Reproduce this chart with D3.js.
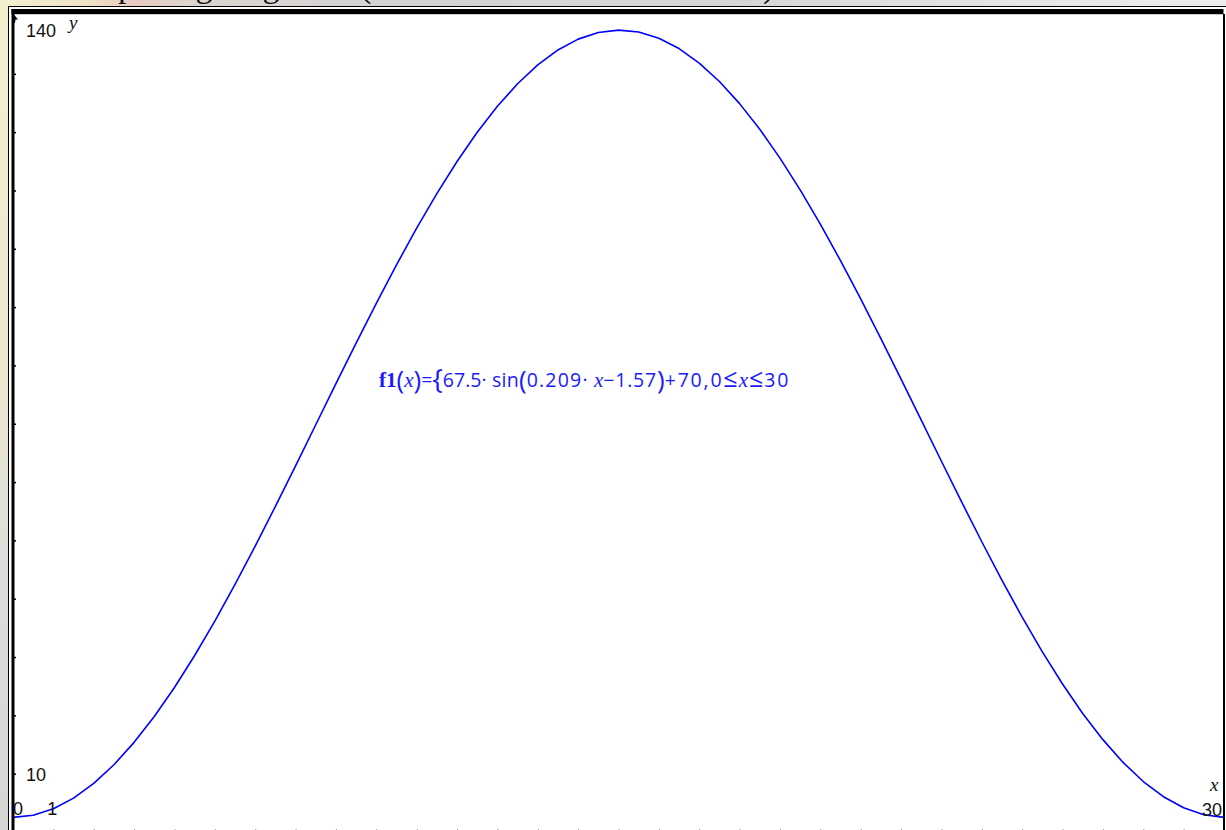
<!DOCTYPE html>
<html>
<head>
<meta charset="utf-8">
<script src="https://cdn.jsdelivr.net/npm/d3@7"></script>
<style>
  html, body { margin: 0; padding: 0; overflow: hidden; background: #d8d8d8; }
  svg { display: block; }
</style>
</head>
<body>
<svg id="chart" width="1226" height="830"></svg>
<script>
// Graph window (TI-Nspire style): x from 0 to 30, y from 0 to 140
const xWindow = [0, 30];
const yWindow = [0, 140];
const xScaleStep = 1;
const yScaleStep = 10;

// f1(x) = a · sin(b · x + c) + d, for 0 ≤ x ≤ 30
const coefA = [67.5];
const coefB = [0.209];
const coefC = [-1.57];
const coefD = [70];
const sampleStep = [0.5];

// Window labels shown on the axes
const xLabels = ["0", "1", "30"];
const yLabels = ["140", "10"];

const svg = d3.select("#chart");
const W = 1226, H = 830;

// ----- page background behind the graph window -----
const defs = svg.append("defs");
const bandGrad = defs.append("linearGradient").attr("id", "band").attr("x1", 0).attr("x2", 1).attr("y1", 0).attr("y2", 0);
[[0, "#f4f0cf"], [0.07, "#efe3c6"], [0.11, "#e9c9c2"], [0.15, "#ddd5cf"], [0.3, "#d3d3d3"], [0.6, "#d6d6d6"], [0.8, "#e4e4e4"], [1, "#ededed"]]
  .forEach(([o, c]) => bandGrad.append("stop").attr("offset", o).attr("stop-color", c));
const sideGrad = defs.append("linearGradient").attr("id", "side").attr("x1", 0).attr("x2", 0).attr("y1", 0).attr("y2", 1);
[[0, "#f3efcd"], [0.45, "#ece8cf"], [0.7, "#dcdcdc"], [1, "#d6d6d6"]]
  .forEach(([o, c]) => sideGrad.append("stop").attr("offset", o).attr("stop-color", c));

svg.append("rect").attr("x", 0).attr("y", 0).attr("width", W).attr("height", H).attr("fill", "#d8d8d8");
svg.append("rect").attr("x", 0).attr("y", 0).attr("width", W).attr("height", 7).attr("fill", "url(#band)");
svg.append("rect").attr("x", 0).attr("y", 0).attr("width", 8).attr("height", H).attr("fill", "url(#side)");

// caption line of the surrounding document (only its lower edge is visible)
const caption = svg.append("text")
  .attr("y", -3)
  .attr("font-family", "'Liberation Serif', 'Times New Roman', serif")
  .attr("font-size", 34)
  .attr("fill", "#111");
caption.append("tspan").attr("x", 86).text("depicting heights");
caption.append("tspan").attr("x", 360).text("(in metres above the sea level)");

// ----- graph window -----
svg.append("rect").attr("x", 8.5).attr("y", 6.5).attr("width", W).attr("height", H)
  .attr("fill", "#ffffff").attr("stroke", "#000").attr("stroke-width", 1);

const x = d3.scaleLinear().domain(xWindow).range([13, 1224]);
const y = d3.scaleLinear().domain(yWindow).range([832, 15.5]);

const plot = svg.append("g");

// x-axis tick marks (axis itself sits just below the visible area)
const xAxis = d3.axisTop(x)
  .tickValues(d3.range(xWindow[0] + xScaleStep, xWindow[1], xScaleStep))
  .tickSize(3)
  .tickFormat("");
plot.append("g").attr("transform", `translate(0,${y(0)})`).call(xAxis)
  .call(g => g.select(".domain").remove())
  .call(g => g.selectAll(".tick line").attr("stroke", "#9a9a9a"));

// y-axis tick marks
const yAxis = d3.axisRight(y)
  .tickValues(d3.range(yWindow[0] + yScaleStep, yWindow[1], yScaleStep))
  .tickSize(3)
  .tickFormat("");
plot.append("g").attr("transform", `translate(${x(0)},0)`).call(yAxis)
  .call(g => g.select(".domain").remove())
  .call(g => g.selectAll(".tick line").attr("stroke", "#000").attr("stroke-width", 1.5));

// thick window border: top bar and left edge (y-axis)
svg.append("rect").attr("x", 11.5).attr("y", 9).attr("width", W - 14).attr("height", 5.2).attr("fill", "#000");
svg.append("rect").attr("x", 11.5).attr("y", 9).attr("width", 3).attr("height", H).attr("fill", "#000");
svg.append("rect").attr("x", 1223).attr("y", 14).attr("width", 2).attr("height", H).attr("fill", "#000");
// arrowhead at the top of the y-axis
svg.append("path").attr("d", "M13.5,14 L18,19.5 L15.5,19.5 L15,23 L13.5,23 Z").attr("fill", "#000");

// ----- function curve -----
const f1 = v => coefA[0] * Math.sin(coefB[0] * v + coefC[0]) + coefD[0];
const xs = d3.range(xWindow[0], xWindow[1] + 1e-9, sampleStep[0]);
const line = d3.line().x(d => x(d)).y(d => y(f1(d)));
plot.append("path").datum(xs)
  .attr("d", line)
  .attr("fill", "none")
  .attr("stroke", "#0000ff")
  .attr("stroke-width", 1.6)
  .attr("stroke-linejoin", "round");

// ----- window labels -----
const labelFont = "'Liberation Sans Narrow', 'Arial Narrow', 'Liberation Sans', sans-serif";
const lab = (t, px, py, anchor) => svg.append("text").attr("x", px).attr("y", py)
  .attr("font-family", labelFont).attr("font-size", 18).attr("fill", "#111")
  .attr("text-anchor", anchor || "start").text(t);
lab(yLabels[0], 26, 37);
lab(yLabels[1], 26, 781);
lab(xLabels[0], 13, 815);
lab(xLabels[1], x(1) - 1, 815, "middle");
lab(xLabels[2], 1222, 816, "end");

const axisName = (t, px, py) => svg.append("text").attr("x", px).attr("y", py)
  .attr("font-family", "'Liberation Serif', 'Times New Roman', serif").attr("font-style", "italic")
  .attr("font-size", 19).attr("fill", "#111").text(t);
axisName("y", 69, 29);
axisName("x", 1210, 791);

// ----- function definition label -----
const serif = "'Liberation Serif', 'Times New Roman', serif";
const sans = "'Open Sans', 'DejaVu Sans', sans-serif";
const expr = svg.append("text").attr("x", 379).attr("y", 387)
  .attr("fill", "#1a1aff").attr("font-size", 19.5).attr("font-family", sans);
const part = (t, opts) => {
  const s = expr.append("tspan").text(t);
  if (opts) Object.entries(opts).forEach(([k, v]) => s.attr(k, v));
  return s;
};
part("f1", { "font-family": serif, "font-weight": "bold", "font-size": 21 });
part("(", { "font-size": 26, dy: 1.5 });
part("x", { "font-family": serif, "font-style": "italic", "font-size": 21, dy: -1.5 });
part(")", { "font-size": 26, dy: 1.5 });
part("=", { dy: -1.5 });
part("{", { "font-size": 28, dy: 1.5 });
part(`${coefA[0]}·`, { dy: -1.5 });
part(" sin", { "letter-spacing": 0.3 });
part("(", { "font-size": 26, dy: 1.5 });
part(`${coefB[0]}·`, { dy: -1.5, "letter-spacing": 1.2 });
part(" x", { "font-family": serif, "font-style": "italic", "font-size": 21 });
part(`−${Math.abs(coefC[0])}`, { "letter-spacing": 0.8 });
part(")", { "font-size": 26, dy: 1.5 });
part(`+${coefD[0]},${xWindow[0]}`, { dy: -1.5, "letter-spacing": 1.8 });
part("≤", { "font-size": 25, "letter-spacing": 1 });
part("x", { "font-family": serif, "font-style": "italic", "font-size": 21, "letter-spacing": 1 });
part("≤", { "font-size": 25, "letter-spacing": 1 });
part(`${xWindow[1]}`, { "letter-spacing": 1.8 });
</script>
</body>
</html>
